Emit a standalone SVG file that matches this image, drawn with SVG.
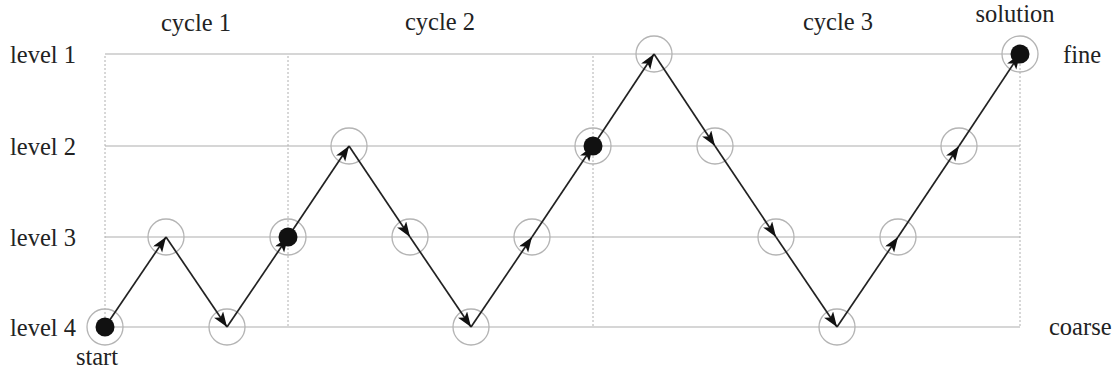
<svg xmlns="http://www.w3.org/2000/svg" width="1120" height="374" viewBox="0 0 1120 374">
<style>
.t{font-family:'Liberation Serif','Times New Roman','DejaVu Serif',serif;font-size:24.5px;fill:#222}
.grid{stroke:#c8c8c8;stroke-width:1.6;fill:none}
.dash{stroke:#b0b0b0;stroke-width:1;stroke-dasharray:2,2;fill:none}
.ring{stroke:#b4b4b4;stroke-width:1.3;fill:none}
.dot{fill:#111}
.seg{stroke:#222;stroke-width:1.7;fill:none;marker-end:url(#ah)}
</style>
<defs>
<marker id="ah" markerUnits="userSpaceOnUse" markerWidth="16" markerHeight="12" refX="15" refY="5.5" orient="auto">
<path d="M0,0 L15,5.5 L0,11 L3.5,5.5 z" fill="#111"/>
</marker>
</defs>
<rect width="1120" height="374" fill="#fff"/>
<g id="grid">
<line class="grid" x1="105" y1="54" x2="1020" y2="54"/>
<line class="grid" x1="105" y1="146" x2="1020" y2="146"/>
<line class="grid" x1="105" y1="237" x2="1020" y2="237"/>
<line class="grid" x1="105" y1="327" x2="1020" y2="327"/>
<line class="dash" x1="105" y1="56" x2="105" y2="327"/>
<line class="dash" x1="288" y1="56" x2="288" y2="327"/>
<line class="dash" x1="593" y1="56" x2="593" y2="327"/>
<line class="dash" x1="1020" y1="56" x2="1020" y2="327"/>
</g>
<g id="labels">
<text class="t" x="10" y="63">level 1</text>
<text class="t" x="10" y="155">level 2</text>
<text class="t" x="10" y="246">level 3</text>
<text class="t" x="10" y="336">level 4</text>
<text class="t" x="196" y="31" text-anchor="middle">cycle 1</text>
<text class="t" x="440" y="30" text-anchor="middle">cycle 2</text>
<text class="t" x="838" y="30" text-anchor="middle">cycle 3</text>
<text class="t" x="1015" y="22" text-anchor="middle">solution</text>
<text class="t" x="1063" y="63">fine</text>
<text class="t" x="1049" y="335">coarse</text>
<text class="t" x="97" y="365" text-anchor="middle">start</text>
</g>
<g id="rings">
<g id="n0"><circle class="ring" cx="105" cy="327" r="18"/></g>
<g id="n1"><circle class="ring" cx="166" cy="237" r="18"/></g>
<g id="n2"><circle class="ring" cx="227" cy="327" r="18"/></g>
<g id="n3"><circle class="ring" cx="288" cy="237" r="18"/></g>
<g id="n4"><circle class="ring" cx="349" cy="146" r="18"/></g>
<g id="n5"><circle class="ring" cx="410" cy="237" r="18"/></g>
<g id="n6"><circle class="ring" cx="471" cy="327" r="18"/></g>
<g id="n7"><circle class="ring" cx="532" cy="237" r="18"/></g>
<g id="n8"><circle class="ring" cx="593" cy="146" r="18"/></g>
<g id="n9"><circle class="ring" cx="654" cy="54" r="18"/></g>
<g id="n10"><circle class="ring" cx="715" cy="146" r="18"/></g>
<g id="n11"><circle class="ring" cx="776" cy="237" r="18"/></g>
<g id="n12"><circle class="ring" cx="837" cy="327" r="18"/></g>
<g id="n13"><circle class="ring" cx="898" cy="237" r="18"/></g>
<g id="n14"><circle class="ring" cx="959" cy="146" r="18"/></g>
<g id="n15"><circle class="ring" cx="1020" cy="54" r="18"/></g>
</g>
<g id="connectors">
<line class="seg" x1="105" y1="327" x2="166" y2="237"/>
<line class="seg" x1="166" y1="237" x2="227" y2="327"/>
<line class="seg" x1="227" y1="327" x2="288" y2="237"/>
<line class="seg" x1="288" y1="237" x2="349" y2="146"/>
<line class="seg" x1="349" y1="146" x2="410" y2="237"/>
<line class="seg" x1="410" y1="237" x2="471" y2="327"/>
<line class="seg" x1="471" y1="327" x2="532" y2="237"/>
<line class="seg" x1="532" y1="237" x2="593" y2="146"/>
<line class="seg" x1="593" y1="146" x2="654" y2="54"/>
<line class="seg" x1="654" y1="54" x2="715" y2="146"/>
<line class="seg" x1="715" y1="146" x2="776" y2="237"/>
<line class="seg" x1="776" y1="237" x2="837" y2="327"/>
<line class="seg" x1="837" y1="327" x2="898" y2="237"/>
<line class="seg" x1="898" y1="237" x2="959" y2="146"/>
<line class="seg" x1="959" y1="146" x2="1020" y2="54"/>
</g>
<g id="dots">
<circle class="dot" cx="105" cy="327" r="9.5"/>
<circle class="dot" cx="288" cy="237" r="9.5"/>
<circle class="dot" cx="593" cy="146" r="9.5"/>
<circle class="dot" cx="1020" cy="54" r="9.5"/>
</g>
</svg>
